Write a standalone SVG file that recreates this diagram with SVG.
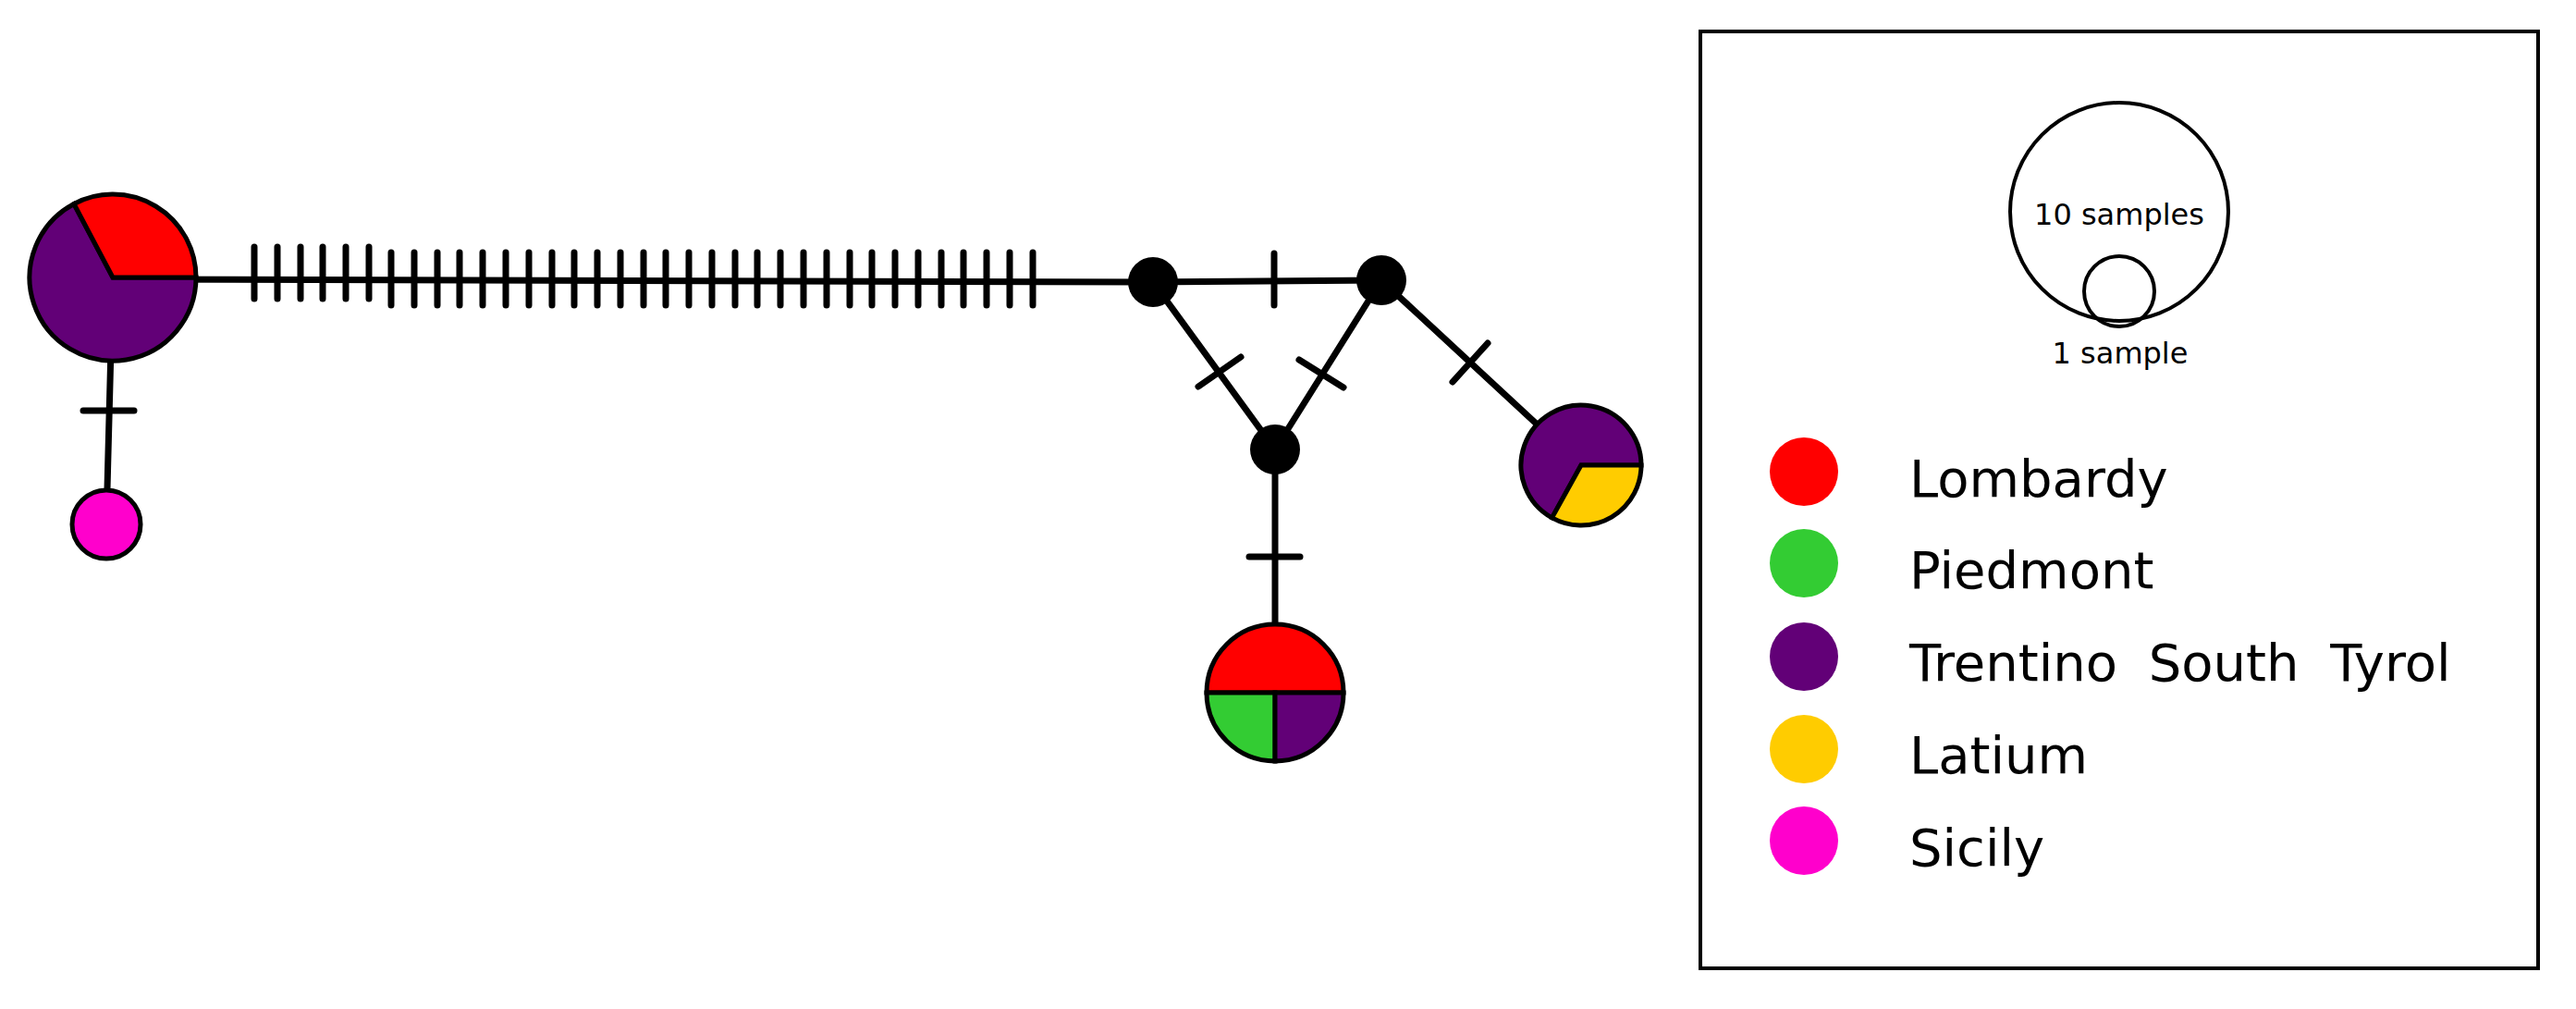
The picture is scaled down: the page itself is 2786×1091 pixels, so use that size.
<svg xmlns="http://www.w3.org/2000/svg" width="2786" height="1091" viewBox="0 0 2786 1091">
<style>
.e{stroke:#000;stroke-width:7;fill:none;stroke-linecap:round}
.t{stroke:#000;stroke-width:7;stroke-linecap:round}
.n{stroke:#000;stroke-width:5}
.lab{font-family:"DejaVu Sans",sans-serif;fill:#000}
</style>
<rect width="2786" height="1091" fill="#fff"/>
<g id="connectors">
<line class="e" x1="122" y1="302" x2="1247" y2="305"/>
<line class="e" x1="1247" y1="305" x2="1494" y2="303"/>
<line class="e" x1="1247" y1="305" x2="1379" y2="486"/>
<line class="e" x1="1494" y1="303" x2="1379" y2="486"/>
<line class="e" x1="1494" y1="303" x2="1710" y2="503"/>
<line class="e" x1="1379" y1="486" x2="1379" y2="749"/>
<line class="e" x1="122" y1="300" x2="115" y2="567"/>
<g id="ticks">
<line class="t" x1="275" y1="267" x2="275" y2="323"/>
<line class="t" x1="300" y1="267" x2="300" y2="323"/>
<line class="t" x1="325" y1="267" x2="325" y2="323"/>
<line class="t" x1="349" y1="267" x2="349" y2="323"/>
<line class="t" x1="374" y1="267" x2="374" y2="323"/>
<line class="t" x1="399" y1="267" x2="399" y2="323"/>
<line class="t" x1="423" y1="273" x2="423" y2="330"/>
<line class="t" x1="448" y1="273" x2="448" y2="330"/>
<line class="t" x1="473" y1="273" x2="473" y2="330"/>
<line class="t" x1="497" y1="273" x2="497" y2="330"/>
<line class="t" x1="522" y1="273" x2="522" y2="330"/>
<line class="t" x1="547" y1="273" x2="547" y2="330"/>
<line class="t" x1="572" y1="273" x2="572" y2="330"/>
<line class="t" x1="597" y1="273" x2="597" y2="330"/>
<line class="t" x1="621" y1="273" x2="621" y2="330"/>
<line class="t" x1="646" y1="273" x2="646" y2="330"/>
<line class="t" x1="671" y1="273" x2="671" y2="330"/>
<line class="t" x1="696" y1="273" x2="696" y2="330"/>
<line class="t" x1="720" y1="273" x2="720" y2="330"/>
<line class="t" x1="745" y1="273" x2="745" y2="330"/>
<line class="t" x1="770" y1="273" x2="770" y2="330"/>
<line class="t" x1="795" y1="273" x2="795" y2="330"/>
<line class="t" x1="819" y1="273" x2="819" y2="330"/>
<line class="t" x1="844" y1="273" x2="844" y2="330"/>
<line class="t" x1="869" y1="273" x2="869" y2="330"/>
<line class="t" x1="894" y1="273" x2="894" y2="330"/>
<line class="t" x1="919" y1="273" x2="919" y2="330"/>
<line class="t" x1="943" y1="273" x2="943" y2="330"/>
<line class="t" x1="968" y1="273" x2="968" y2="330"/>
<line class="t" x1="993" y1="273" x2="993" y2="330"/>
<line class="t" x1="1018" y1="273" x2="1018" y2="330"/>
<line class="t" x1="1042" y1="273" x2="1042" y2="330"/>
<line class="t" x1="1067" y1="273" x2="1067" y2="330"/>
<line class="t" x1="1092" y1="273" x2="1092" y2="330"/>
<line class="t" x1="1117" y1="273" x2="1117" y2="330"/>
<line class="t" x1="1378" y1="274" x2="1378" y2="330"/>
<line class="t" x1="1296" y1="418" x2="1342" y2="386"/>
<line class="t" x1="1405" y1="389" x2="1453" y2="419"/>
<line class="t" x1="1571" y1="413" x2="1609" y2="371"/>
<line class="t" x1="1351" y1="602" x2="1406" y2="602"/>
<line class="t" x1="90" y1="444" x2="145" y2="444"/>
</g>
</g>
<g id="node-big">
<path class="n" d="M122,300 L212,300 A90,90 0 1 1 80,220.5 Z" fill="#620077"/>
<path class="n" d="M122,300 L80,220.5 A90,90 0 0 1 212,300 Z" fill="#ff0000"/>
</g>
<g id="node-sicily"><circle class="n" cx="115" cy="567" r="37" fill="#ff00cc"/></g>
<g id="median1"><circle cx="1247" cy="305" r="27" fill="#000"/></g>
<g id="median2"><circle cx="1494" cy="303" r="27" fill="#000"/></g>
<g id="median3"><circle cx="1379" cy="486" r="27" fill="#000"/></g>
<g id="node-latium">
<path class="n" d="M1710,503 L1678.5,559.9 A65,65 0 1 1 1775,503 Z" fill="#620077"/>
<path class="n" d="M1710,503 L1775,503 A65,65 0 0 1 1678.5,559.9 Z" fill="#ffcc00"/>
</g>
<g id="node-bottom">
<path class="n" d="M1305,749 A74,74 0 0 1 1453,749 Z" fill="#ff0000"/>
<path class="n" d="M1379,749 L1305,749 A74,74 0 0 0 1379,823 Z" fill="#33cc33"/>
<path class="n" d="M1379,749 L1379,823 A74,74 0 0 0 1453,749 Z" fill="#620077"/>
</g>
<g id="legend">
<rect x="1839" y="34" width="906" height="1013" fill="none" stroke="#000" stroke-width="4"/>
<circle cx="2292" cy="229" r="118" fill="none" stroke="#000" stroke-width="4"/>
<circle cx="2292" cy="315" r="38" fill="none" stroke="#000" stroke-width="4"/>
<text class="lab" x="2292" y="243" font-size="32" text-anchor="middle">10 samples</text>
<text class="lab" x="2293" y="393" font-size="32" text-anchor="middle">1 sample</text>
<circle cx="1951" cy="510" r="37" fill="#ff0000"/>
<circle cx="1951" cy="609" r="37" fill="#33cc33"/>
<circle cx="1951" cy="710" r="37" fill="#620077"/>
<circle cx="1951" cy="810" r="37" fill="#ffcc00"/>
<circle cx="1951" cy="909" r="37" fill="#ff00cc"/>
<text class="lab" x="2065" y="537" font-size="56">Lombardy</text>
<text class="lab" x="2065" y="636" font-size="56">Piedmont</text>
<text class="lab" x="2065" y="736" font-size="56" word-spacing="16">Trentino South Tyrol</text>
<text class="lab" x="2065" y="836" font-size="56">Latium</text>
<text class="lab" x="2065" y="936" font-size="56">Sicily</text>
</g>
</svg>
